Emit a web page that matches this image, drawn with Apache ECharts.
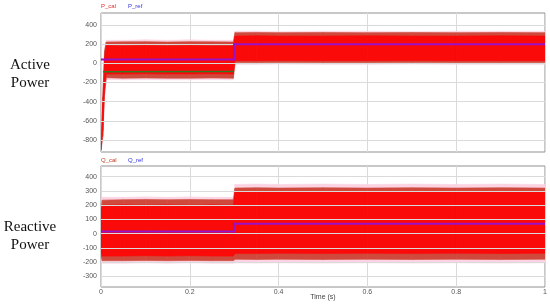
<!DOCTYPE html>
<html>
<head>
<meta charset="utf-8">
<script src="https://cdn.jsdelivr.net/npm/echarts@6/dist/echarts.min.js"></script>
<style>
html,body{margin:0;padding:0;background:#fff;}
#c{width:550px;height:304px;}
</style>
</head>
<body>
<div id="c"></div>
<script>
// ---------- data ----------
const xTicks = [0, 0.2, 0.4, 0.6, 0.8, 1];
const pTicks = [400, 200, 0, -200, -400, -600, -800];
const qTicks = [400, 300, 200, 100, 0, -100, -200, -300];

// Active power P_cal envelope (time in s)
const pTime    = [0, 0.004, 0.008, 0.012, 0.05, 0.1, 0.15, 0.2, 0.25, 0.298, 0.302, 0.35, 0.4, 0.5, 0.6, 0.7, 0.8, 0.9, 1.0];
const pHaloHi  = [-860, -320, 160, 240, 240, 245, 240, 245, 240, 240, 335, 335, 330, 335, 335, 330, 335, 335, 335];
const pSpikeHi = [-870, -350, 130, 222, 224, 226, 222, 226, 224, 222, 320, 322, 320, 322, 320, 322, 320, 322, 320];
const pCoreHi  = [-880, -420, 60, 185, 182, 185, 182, 185, 182, 182, 285, 288, 285, 285, 288, 285, 285, 288, 285];
const pCoreLo  = [-900, -700, -260, -112, -112, -110, -112, -112, -110, -112, 28, 28, 30, 28, 28, 30, 28, 28, 28];
const pSpikeLo = [-910, -760, -320, -150, -155, -152, -155, -155, -152, -155, 5, 5, 8, 5, 5, 8, 5, 5, 5];
const pHaloLo  = [-920, -780, -340, -170, -172, -170, -172, -172, -170, -172, -10, -10, -8, -10, -10, -8, -10, -10, -10];
const pGreenTime = [0.006, 0.298];
const pGreen     = [-88, -85];
const refTime = [0, 0.3, 0.3, 1];
const pRef    = [40, 40, 200, 200];

// Reactive power Q_cal envelope
const qTime    = [0, 0.003, 0.05, 0.1, 0.15, 0.2, 0.25, 0.298, 0.302, 0.35, 0.4, 0.5, 0.6, 0.7, 0.8, 0.9, 1.0];
const qHaloHi  = [200, 255, 255, 258, 255, 258, 255, 255, 345, 348, 345, 348, 345, 348, 345, 348, 345];
const qSpikeHi = [180, 235, 238, 240, 238, 240, 238, 238, 320, 322, 320, 322, 320, 322, 320, 322, 320];
const qCoreHi  = [160, 200, 202, 200, 202, 200, 202, 200, 292, 294, 292, 294, 292, 294, 292, 294, 292];
const qCoreLo  = [-130, -158, -158, -155, -158, -155, -158, -158, -140, -140, -138, -140, -138, -140, -138, -140, -138];
const qSpikeLo = [-160, -190, -190, -188, -190, -188, -190, -190, -180, -182, -180, -182, -180, -182, -180, -182, -180];
const qHaloLo  = [-175, -208, -208, -205, -208, -205, -208, -208, -205, -207, -205, -207, -205, -207, -205, -207, -205];
const qRef     = [15, 15, 70, 70];

// ---------- helpers ----------
function pairs(t, v) { return t.map((x, i) => [x, v[i]]); }

function band(t, hi, lo, color, gi, z) {
  return {
    type: 'custom', xAxisIndex: gi, yAxisIndex: gi, silent: true, z: z, clip: true, animation: false,
    data: t.map((x, i) => [x, hi[i], lo[i]]),
    renderItem: function (params, api) {
      const i = params.dataIndex;
      if (i >= t.length - 1) return null;
      const pts = [
        api.coord([t[i], hi[i]]), api.coord([t[i + 1], hi[i + 1]]),
        api.coord([t[i + 1], lo[i + 1]]), api.coord([t[i], lo[i]])
      ];
      return { type: 'polygon', shape: { points: pts },
        style: { fill: color, stroke: color, lineWidth: 0.6 } };
    }
  };
}

function trace(t, v, color, width, gi, z) {
  return {
    type: 'custom', xAxisIndex: gi, yAxisIndex: gi, silent: true, z: z, clip: true, animation: false,
    data: t.map((x, i) => [x, v[i]]),
    renderItem: function (params, api) {
      const i = params.dataIndex;
      if (i >= t.length - 1) return null;
      return { type: 'line', shape: (function () {
          const a = api.coord([t[i], v[i]]), b = api.coord([t[i + 1], v[i + 1]]);
          return { x1: a[0], y1: a[1], x2: b[0], y2: b[1] };
        })(),
        style: { stroke: color, lineWidth: width, lineCap: 'square' } };
    }
  };
}

function gridLines(ticks, gi) {
  return { type: 'line', xAxisIndex: gi, yAxisIndex: gi, data: [], silent: true, z: 1, animation: false,
    markLine: { symbol: 'none', silent: true, animation: false, label: { show: false },
      lineStyle: { color: '#dadada', type: 'solid', width: 1 },
      data: ticks.map(v => ({ yAxis: v })) } };
}

const labelStyle = { color: '#555', fontSize: 7, fontFamily: 'Liberation Sans, Arial, sans-serif' };

const chart = echarts.init(document.getElementById('c'), null, { renderer: 'canvas' });
chart.setOption({
  animation: false,
  backgroundColor: '#fff',
  grid: [
    { left: 101, right: 5, top: 13, height: 139, show: true, borderColor: '#909090', borderWidth: 1, backgroundColor: 'transparent' },
    { left: 101, right: 5, top: 166, height: 121, show: true, borderColor: '#909090', borderWidth: 1, backgroundColor: 'transparent' }
  ],
  xAxis: [0, 1].map(gi => ({
    type: 'value', gridIndex: gi, min: 0, max: 1, interval: 0.2,
    axisLine: { show: false }, axisTick: { show: false },
    axisLabel: Object.assign({ show: gi === 1, margin: 2, formatter: v => xTicks.includes(+v.toFixed(2)) ? String(+v.toFixed(2)) : '' }, labelStyle),
    splitLine: { show: true, lineStyle: { color: '#dadada', width: 1 } }
  })),
  yAxis: [
    { type: 'value', gridIndex: 0, min: -925, max: 525, interval: 25,
      axisLine: { show: false }, axisTick: { show: false }, splitLine: { show: false },
      axisLabel: Object.assign({ margin: 4, formatter: v => pTicks.includes(v) ? String(v) : '' }, labelStyle) },
    { type: 'value', gridIndex: 1, min: -375, max: 475, interval: 25,
      axisLine: { show: false }, axisTick: { show: false }, splitLine: { show: false },
      axisLabel: Object.assign({ margin: 4, formatter: v => qTicks.includes(v) ? String(v) : '' }, labelStyle) }
  ],
  series: [
    gridLines(pTicks, 0),
    gridLines(qTicks, 1),
    band(pTime, pHaloHi, pHaloLo, '#fbd3e2', 0, 2),
    band(pTime, pSpikeHi, pSpikeLo, '#cf4a3c', 0, 3),
    band(pTime, pCoreHi, pCoreLo, '#fb0a0a', 0, 4),
    trace(pGreenTime, pGreen, '#2f7a22', 1.5, 0, 10),
    trace(refTime, pRef, '#9a10c8', 2, 0, 11),
    band(qTime, qHaloHi, qHaloLo, '#fbd3e2', 1, 2),
    band(qTime, qSpikeHi, qSpikeLo, '#cf4a3c', 1, 3),
    band(qTime, qCoreHi, qCoreLo, '#fb0a0a', 1, 4),
    trace(refTime, qRef, '#9a10c8', 2, 1, 11)
  ],
  graphic: [
    { type: 'text', left: 101, top: 3, style: { text: 'P_cal', fill: '#e03030', font: '6px Liberation Sans, Arial, sans-serif' } },
    { type: 'text', left: 128, top: 3, style: { text: 'P_ref', fill: '#3030e0', font: '6px Liberation Sans, Arial, sans-serif' } },
    { type: 'text', left: 101, top: 157, style: { text: 'Q_cal', fill: '#c04020', font: '6px Liberation Sans, Arial, sans-serif' } },
    { type: 'text', left: 128, top: 157, style: { text: 'Q_ref', fill: '#3030e0', font: '6px Liberation Sans, Arial, sans-serif' } },
    { type: 'text', x: 323, y: 297, style: { text: 'Time (s)', fill: '#444', font: '7px Liberation Sans, Arial, sans-serif', textAlign: 'center', textVerticalAlign: 'middle' } },
    { type: 'text', x: 30, y: 65, style: { text: 'Active', fill: '#111', font: '15px Liberation Serif, serif', textAlign: 'center', textVerticalAlign: 'middle' } },
    { type: 'text', x: 30, y: 83, style: { text: 'Power', fill: '#111', font: '15px Liberation Serif, serif', textAlign: 'center', textVerticalAlign: 'middle' } },
    { type: 'text', x: 30, y: 227, style: { text: 'Reactive', fill: '#111', font: '15px Liberation Serif, serif', textAlign: 'center', textVerticalAlign: 'middle' } },
    { type: 'text', x: 30, y: 245, style: { text: 'Power', fill: '#111', font: '15px Liberation Serif, serif', textAlign: 'center', textVerticalAlign: 'middle' } }
  ]
});
</script>
</body>
</html>
